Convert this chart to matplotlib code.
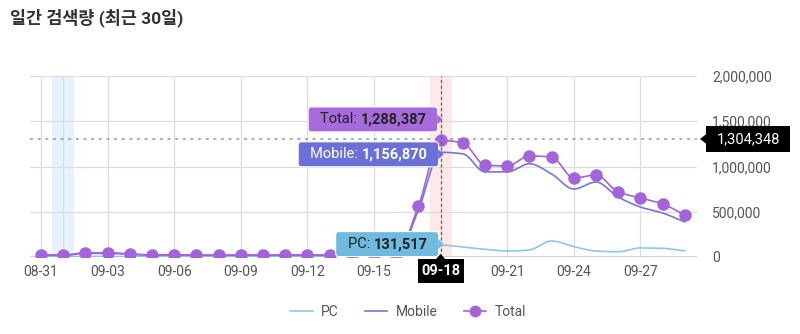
import numpy as np
import matplotlib.pyplot as plt
from matplotlib.patches import FancyBboxPatch, Polygon
from matplotlib.lines import Line2D

plt.rcParams['font.family'] = ['Roboto', 'Noto Sans CJK KR', 'DejaVu Sans']

dates = ['08-31'] + ['09-%02d' % d for d in range(1, 30)]
pc = [4000, 4000, 6000, 6000, 5000, 4000, 5000, 4000, 4000, 4000, 4000, 4000, 4000, 4000,
      4000, 5000, 5000, 45000, 131517, 110000, 85000, 66000, 78000, 177000, 115000, 66000,
      58000, 100000, 95000, 68000]
mobile = [18000, 18000, 40000, 40000, 30000, 18000, 22000, 18000, 18000, 18000, 18000, 18000,
          18000, 18000, 18000, 20000, 20000, 520000, 1156870, 1140000, 940000, 940000, 1030000,
          917000, 751000, 829000, 663000, 552000, 486000, 387000]
total = [22000, 22000, 47000, 47000, 35000, 22000, 27000, 22000, 22000, 22000, 22000, 22000,
         22000, 22000, 22000, 25000, 25000, 563000, 1288387, 1260000, 1017000, 1005000, 1116000,
         1105000, 873000, 906000, 718000, 652000, 586000, 464000]
yticks = [0, 500000, 1000000, 1500000, 2000000]
sel = dates.index('09-18')
hl = dates.index('09-01')
cursor_val = 1304348

C_PC, C_MOB, C_TOT = '#8cc8e4', '#7377d6', '#a363da'


def pchip(x, y, n=20):
    # monotone cubic, only for drawing smooth lines between the data points
    x = np.asarray(x, float); y = np.asarray(y, float)
    h = np.diff(x); d = np.diff(y) / h
    m = np.zeros_like(y)
    for i in range(1, len(y) - 1):
        if d[i - 1] * d[i] > 0:
            w1 = 2 * h[i] + h[i - 1]; w2 = h[i] + 2 * h[i - 1]
            m[i] = (w1 + w2) / (w1 / d[i - 1] + w2 / d[i])
    m[0], m[-1] = d[0], d[-1]
    xs, ys = [], []
    for i in range(len(x) - 1):
        t = np.linspace(0, 1, n, endpoint=False)
        h00 = 2 * t**3 - 3 * t**2 + 1; h10 = t**3 - 2 * t**2 + t
        h01 = -2 * t**3 + 3 * t**2; h11 = t**3 - t**2
        xs.append(x[i] + t * h[i])
        ys.append(h00 * y[i] + h10 * h[i] * m[i] + h01 * y[i + 1] + h11 * h[i] * m[i + 1])
    xs.append([x[-1]]); ys.append([y[-1]])
    return np.concatenate(xs), np.concatenate(ys)


W, H = 800, 334
fig = plt.figure(figsize=(8, 3.34), dpi=100)
ax = fig.add_axes([30 / W, (H - 257) / H, 667 / W, 181 / H])
x = np.arange(len(dates))

ax.axvspan(hl - 0.5, hl + 0.5, color='#e6f2ff', lw=0, zorder=0)
ax.axvspan(sel - 0.5, sel + 0.5, color='#ffe8e8', lw=0, zorder=0)
for v in list(range(0, len(dates), 3)) + [hl]:
    ax.axvline(v, color='#dcdcdc', lw=0.9, zorder=1)
for v in yticks[1:]:
    ax.axhline(v, color='#dcdcdc', lw=0.9, zorder=1)
ax.axhline(0, color='#c8c8c8', lw=1.2, zorder=1)

ax.plot(*pchip(x, pc), color=C_PC, lw=1.2, zorder=3)
ax.plot(*pchip(x, mobile), color=C_MOB, lw=1.2, zorder=3)
ax.plot(*pchip(x, total), color=C_TOT, lw=1.2, zorder=4)
ax.plot(x, total, 'o', color=C_TOT, ms=9, mec='none', zorder=5)

ax.axvline(sel, color='#666666', lw=0.9, ls=(0, (2.5, 2)), zorder=6)
ax.axhline(cursor_val, color='#999999', lw=1.1, ls=(0, (2, 3)), zorder=2)

ax.set_xlim(-0.5, 29.55)
ax.set_ylim(0, 2000000)
xt = list(x[::3])
ax.set_xticks(xt)
# the selected date is shown in the black cursor box instead
ax.set_xticklabels(['' if i == sel else dates[i] for i in xt])
ax.set_yticks(yticks)
ax.set_yticklabels(['{:,}'.format(v) for v in yticks])
ax.yaxis.tick_right()
ax.tick_params(length=0, labelsize=10, colors='#555555', pad=6)
ax.tick_params(axis='y', pad=11)
for s in ax.spines.values():
    s.set_visible(False)

fig.text(10 / W, 1 - 18 / H, '일간 검색량 (최근 30일)', fontsize=12.5, fontweight='bold',
         color='#333333', va='center')

# overlay in pixel coords for tooltips
ov = fig.add_axes([0, 0, 1, 1], zorder=10)
ov.set_xlim(0, W); ov.set_ylim(H, 0); ov.axis('off')
fig.canvas.draw()
rend = fig.canvas.get_renderer()


def px(xv, yv):
    dx, dy = ax.transData.transform((xv, yv))
    return dx, H - dy


def tooltip(xr, yc, label, value, fc, tc):
    t2 = ov.text(xr - 11, yc, value, ha='right', va='center', fontsize=10.5,
                 fontweight='bold', color=tc, zorder=12)
    bb = t2.get_window_extent(rend)
    t1 = ov.text(xr - 11 - bb.width, yc, label, ha='right', va='center', fontsize=10.5,
                 color=tc, zorder=12)
    bb1 = t1.get_window_extent(rend)
    left = xr - 11 - bb.width - bb1.width - 12
    ov.add_patch(FancyBboxPatch((left, yc - 12.5), xr - left, 25,
                                boxstyle='round,pad=0,rounding_size=3', fc=fc,
                                ec='white', lw=0.8, zorder=11))
    ov.add_patch(Polygon([[xr - 0.5, yc - 5], [xr + 5, yc], [xr - 0.5, yc + 5]],
                         closed=True, fc=fc, ec='none', zorder=11))


sx, ty = px(sel, total[sel])
_, my = px(sel, mobile[sel])
_, py_ = px(sel, pc[sel])
tooltip(sx - 3, ty - 21, 'Total: ', '{:,}'.format(total[sel]), '#a66bdb', '#222222')
tooltip(sx - 2, my + 2, 'Mobile: ', '{:,}'.format(mobile[sel]), '#6b70d8', 'white')
tooltip(sx - 2, py_ - 1, 'PC: ', '{:,}'.format(pc[sel]), '#6fbbe0', '#222222')

# black cursor labels
ov.add_patch(FancyBboxPatch((sx - 23, 259), 46, 24, boxstyle='square,pad=0', fc='black',
                            ec='none', zorder=11))
ov.add_patch(Polygon([[sx - 5, 259.5], [sx, 254], [sx + 5, 259.5]], fc='black', ec='none', zorder=11))
ov.text(sx, 271, dates[sel], ha='center', va='center', fontsize=10.5, fontweight='bold',
        color='white', zorder=12)
_, cy = px(0, cursor_val)
ov.add_patch(FancyBboxPatch((706, cy - 13), 84, 26, boxstyle='square,pad=0', fc='black',
                            ec='none', zorder=11))
ov.add_patch(Polygon([[706.5, cy - 5], [700, cy], [706.5, cy + 5]], fc='black', ec='none', zorder=11))
ov.text(748, cy, '{:,}'.format(cursor_val), ha='center', va='center', fontsize=10.5,
        color='white', zorder=12)

handles = [Line2D([], [], color=C_PC, lw=1.2),
           Line2D([], [], color=C_MOB, lw=1.2),
           Line2D([], [], color=C_TOT, lw=1.2, marker='o', ms=8.5, mec='none')]
fig.legend(handles, ['PC', 'Mobile', 'Total'], loc='center', ncol=3, frameon=False,
           bbox_to_anchor=(0.51, 1 - 312 / H), fontsize=10, labelcolor='#555555',
           handlelength=1.6, columnspacing=1.9, handletextpad=0.6)

fig.savefig('out.png', dpi=100)
